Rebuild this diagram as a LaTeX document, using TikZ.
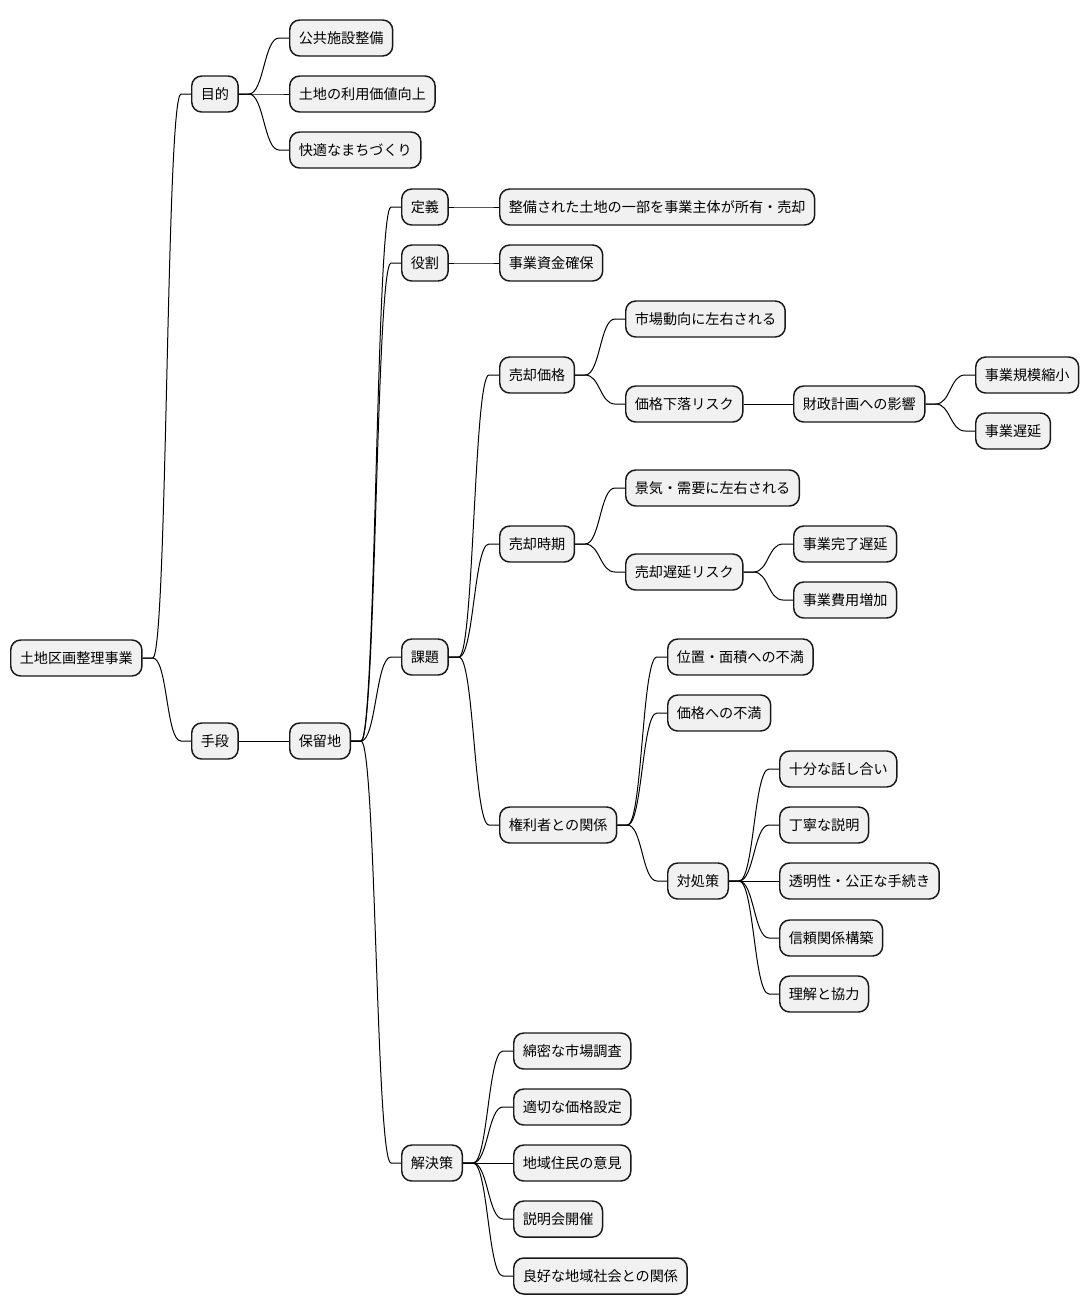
\documentclass[tikz,border=0pt]{standalone}
\usepackage{fontspec}
\setmainfont{Noto Sans CJK JP}
\usetikzlibrary{calc}

\tikzset{every picture/.style={line width=0.75pt}}
\tikzset{
  topic/.style={draw={rgb,255:red,24;green,24;blue,24}, line width=1.1pt,
    fill={rgb,255:red,241;green,241;blue,241}, rounded corners=7.5pt,
    anchor=west, minimum height=27pt, inner xsep=6.8pt, inner ysep=0pt,
    font=\fontsize{10.6}{12}\selectfont},
  branch/.style={draw={rgb,255:red,24;green,24;blue,24}, line width=0.75pt,
    to path={-- ++(10,0) .. controls +(15,0) and +(-15,0) .. ($(\tikztotarget)+(-10,0)$) -- (\tikztotarget)}}
}

\begin{document}
\begin{tikzpicture}[x=0.75pt,y=0.75pt,yscale=-1]
	\useasboundingbox (0,0) rectangle (1090,1315);

	% Root
	\node[topic] (jigyo) at (10,658) {土地区画整理事業};

	% Level 1
	\node[topic] (mokuteki) at (191,94) {目的};
	\node[topic] (shudan) at (191,741) {手段};

	% Mokuteki
	\node[topic] (koukyo) at (289,38) {公共施設整備};
	\node[topic] (riyou) at (289,94) {土地の利用価値向上};
	\node[topic] (kaiteki) at (289,150) {快適なまちづくり};

	% Shudan
	\node[topic] (horyu) at (289,741) {保留地};
	\node[topic] (teigi) at (401,207) {定義};
	\node[topic] (yakuwari) at (401,263) {役割};
	\node[topic] (kadai) at (401,657) {課題};
	\node[topic] (kaiketsu) at (401,1163) {解決策};

	\node[topic] (teigitxt) at (499,207) {整備された土地の一部を事業主体が所有・売却};
	\node[topic] (shikin) at (499,263) {事業資金確保};

	% Kadai
	\node[topic] (kakaku) at (499,375) {売却価格};
	\node[topic] (jiki) at (499,544) {売却時期};
	\node[topic] (kenri) at (499,825) {権利者との関係};

	\node[topic] (shijo) at (625,319) {市場動向に左右される};
	\node[topic] (geraku) at (625,404) {価格下落リスク};
	\node[topic] (zaisei) at (793,404) {財政計画への影響};
	\node[topic] (shukusho) at (975,375) {事業規模縮小};
	\node[topic] (chien) at (975,431) {事業遅延};

	\node[topic] (keiki) at (625,488) {景気・需要に左右される};
	\node[topic] (baichien) at (625,572) {売却遅延リスク};
	\node[topic] (kanryo) at (793,544) {事業完了遅延};
	\node[topic] (hiyou) at (793,600) {事業費用増加};

	\node[topic] (ichi) at (667,657) {位置・面積への不満};
	\node[topic] (kakakufuman) at (667,713) {価格への不満};
	\node[topic] (taisho) at (667,881) {対処策};
	\node[topic] (hanashi) at (779,769) {十分な話し合い};
	\node[topic] (setsumei) at (779,825) {丁寧な説明};
	\node[topic] (tomei) at (779,881) {透明性・公正な手続き};
	\node[topic] (shinrai) at (779,938) {信頼関係構築};
	\node[topic] (rikai) at (779,994) {理解と協力};

	% Kaiketsu
	\node[topic] (chosa) at (513,1051) {綿密な市場調査};
	\node[topic] (settei) at (513,1107) {適切な価格設定};
	\node[topic] (iken) at (513,1163) {地域住民の意見};
	\node[topic] (setsumeikai) at (513,1219) {説明会開催};
	\node[topic] (ryoko) at (513,1276) {良好な地域社会との関係};

	% Connectors
	\foreach \p/\c in {jigyo/mokuteki, jigyo/shudan,
	    mokuteki/koukyo, mokuteki/riyou, mokuteki/kaiteki,
	    shudan/horyu,
	    horyu/teigi, horyu/yakuwari, horyu/kadai, horyu/kaiketsu,
	    teigi/teigitxt, yakuwari/shikin,
	    kadai/kakaku, kadai/jiki, kadai/kenri,
	    kakaku/shijo, kakaku/geraku, geraku/zaisei, zaisei/shukusho, zaisei/chien,
	    jiki/keiki, jiki/baichien, baichien/kanryo, baichien/hiyou,
	    kenri/ichi, kenri/kakakufuman, kenri/taisho,
	    taisho/hanashi, taisho/setsumei, taisho/tomei, taisho/shinrai, taisho/rikai,
	    kaiketsu/chosa, kaiketsu/settei, kaiketsu/iken, kaiketsu/setsumeikai, kaiketsu/ryoko}
	  \draw (\p.east) to[branch] (\c.west);

\end{tikzpicture}
\end{document}
